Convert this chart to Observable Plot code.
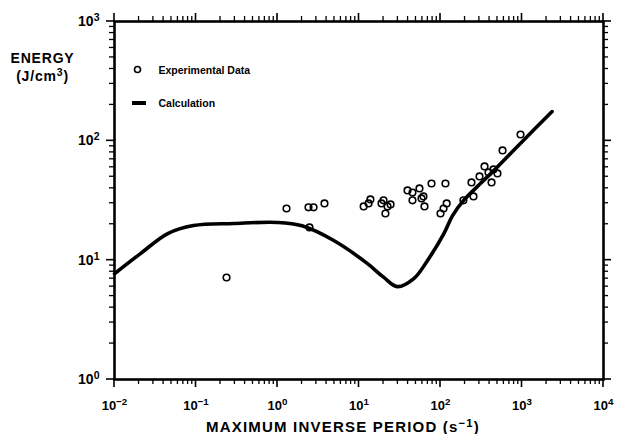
<!DOCTYPE html>
<html><head><meta charset="utf-8">
<script src="https://cdn.jsdelivr.net/npm/d3@7"></script>
<script src="https://cdn.jsdelivr.net/npm/@observablehq/plot@0.6"></script>
<style>body{margin:0;background:#fff} #chart{position:relative;width:624px;height:434px} #chart svg{display:block}</style>
</head><body><div id="chart"></div>
<script>
// Experimental data (maximum inverse period s^-1, energy J/cm^3)
const expPeriod = [0.237, 1.29, 2.40, 2.77, 2.47, 3.77, 11.4, 13.1, 13.8, 18.9, 20.0, 21.1, 22.4, 24.4,
  39.4, 45.3, 45.3, 55.2, 58.5, 61.8, 63.6, 77.6, 115, 119, 109, 100, 191, 240, 254, 301, 347, 388, 423, 447, 500, 577, 959];
const expEnergy = [7.16, 27.1, 27.7, 27.7, 18.8, 29.9, 28.2, 29.9, 32.3, 29.9, 31.7, 24.6, 28.2, 29.3,
  38.4, 36.9, 31.7, 39.9, 32.9, 34.2, 28.2, 43.9, 43.9, 29.9, 27.1, 24.6, 31.7, 44.8, 34.2, 50.3, 61.0, 54.4, 44.8, 57.6, 53.3, 83.1, 113];
// Calculation curve
const calcPeriod = [0.01, 0.021, 0.045, 0.093, 0.29, 1.0, 2.0, 4.9, 12.6, 20, 29.5, 47, 69, 110, 140, 192, 300, 447, 955, 2340];
const calcEnergy = [7.7, 11.4, 16.7, 19.5, 20.3, 20.7, 19.4, 14.6, 9.4, 7.2, 6.0, 7.0, 9.9, 16.7, 23.5, 31.7, 43.0, 56, 95, 176];

const xTicks = [1e-2, 1e-1, 1e0, 1e1, 1e2, 1e3, 1e4];
const xTickLabels = ["10⁻²", "10⁻¹", "10⁰", "10¹", "10²", "10³", "10⁴"];
const yTicks = [1, 10, 100, 1000];
const yTickLabels = ["10⁰", "10¹", "10²", "10³"];
const minorMult = [2, 3, 4, 5, 6, 7, 8, 9];
const xMinor = xTicks.slice(0, -1).flatMap(d => minorMult.map(m => d * m));
const yMinor = yTicks.slice(0, -1).flatMap(d => minorMult.map(m => d * m));

const expData = expPeriod.map((x, i) => ({x, y: expEnergy[i]}));
const calcData = calcPeriod.map((x, i) => ({x, y: calcEnergy[i]}));

const W = 624, H = 434, mT = 21, mR = 21, mB = 55, mL = 114;
const MAJ = 8, MIN = 5;

const fmtX = d => xTickLabels[xTicks.indexOf(d)];
const fmtY = d => yTickLabels[yTicks.indexOf(d)];

const plot = Plot.plot({
  width: W, height: H,
  marginTop: mT, marginRight: mR, marginBottom: mB, marginLeft: mL,
  x: {type: "log", domain: [1e-2, 1e4]},
  y: {type: "log", domain: [1, 1e3]},
  style: {fontFamily: "'Liberation Sans', Arial, sans-serif", fontWeight: "bold", color: "black", background: "white"},
  marks: [
    Plot.axisX({anchor: "bottom", ticks: xTicks, tickFormat: fmtX, tickSize: 0, tickPadding: 21, fontSize: 13, label: null}),
    Plot.axisY({anchor: "left", ticks: yTicks, tickFormat: fmtY, tickSize: 0, tickPadding: 15, fontSize: 14, label: null}),
    Plot.frame({strokeWidth: 2.6, stroke: "black"}),
    Plot.line(calcData, {x: "x", y: "y", curve: "catmull-rom", stroke: "black", strokeWidth: 3.6}),
    Plot.dot(expData, {x: "x", y: "y", r: 3.3, stroke: "black", strokeWidth: 1.6, fill: "none"}),
    Plot.text(["ENERGY\n(J/cm³)"], {frameAnchor: "top-left", dx: -72, dy: 45, fontSize: 14, lineHeight: 1.3, textAnchor: "middle", lineAnchor: "middle"}),
    Plot.text(["MAXIMUM INVERSE PERIOD (s⁻¹)"], {frameAnchor: "bottom", dx: -16, dy: 48, fontSize: 15, textAnchor: "middle", lineAnchor: "middle"}),
    Plot.dot([0], {frameAnchor: "top-left", dx: 23, dy: 48, r: 3, stroke: "black", strokeWidth: 1.6, fill: "white"}),
    Plot.text(["Experimental Data"], {frameAnchor: "top-left", dx: 44, dy: 49, fontSize: 10.5, textAnchor: "start", lineAnchor: "middle"}),
    Plot.text(["Calculation"], {frameAnchor: "top-left", dx: 44, dy: 82, fontSize: 10.5, textAnchor: "start", lineAnchor: "middle"})
  ]
});

const svg = d3.select(plot);
// legend line sample
svg.append("line")
  .attr("x1", mL + 18).attr("x2", mL + 32)
  .attr("y1", mT + 82).attr("y2", mT + 82)
  .attr("stroke", "black").attr("stroke-width", 4);

// letter spacing for the axis titles
svg.selectAll("text").each(function() {
  const t = this.textContent;
  if (t.startsWith("MAXIMUM")) this.setAttribute("letter-spacing", "1.2");
  if (t.startsWith("ENERGY")) this.setAttribute("letter-spacing", "0.8");
});

// superscripts
const supMap = {"⁻": "−", "⁰": "0", "¹": "1", "²": "2", "³": "3", "⁴": "4"};
const supRe = /[⁻⁰¹²³⁴]/;
const leaves = [];
plot.querySelectorAll("text, tspan").forEach(el => {
  if (el.children.length === 0 && supRe.test(el.textContent)) leaves.push(el);
});
const ns = "http://www.w3.org/2000/svg";
for (const el of leaves) {
  const runs = el.textContent.match(/[⁻⁰¹²³⁴]+|[^⁻⁰¹²³⁴]+/g);
  el.textContent = "";
  for (const r of runs) {
    const t = document.createElementNS(ns, "tspan");
    if (supRe.test(r)) {
      t.textContent = [...r].map(c => supMap[c]).join("");
      t.setAttribute("font-size", "75%");
      t.setAttribute("baseline-shift", "50%");
    } else t.textContent = r;
    el.appendChild(t);
  }
}

const chart = document.getElementById("chart");
chart.appendChild(plot);

// outward tick marks on all four sides, in an overlay layer, positioned with Plot's own scales
const sx = plot.scale("x"), sy = plot.scale("y");
const x0 = mL, x1 = W - mR, y0 = mT, y1 = H - mB;
const overlay = d3.select(chart).append("svg")
  .attr("width", W).attr("height", H)
  .style("position", "absolute").style("left", "0px").style("top", "0px")
  .style("pointer-events", "none").style("overflow", "visible");
function xTickRects(vals, len, w) {
  for (const v of vals) {
    const px = sx.apply(v);
    overlay.append("rect").attr("x", px - w / 2).attr("y", y1).attr("width", w).attr("height", len).attr("fill", "black");
    overlay.append("rect").attr("x", px - w / 2).attr("y", y0 - len).attr("width", w).attr("height", len).attr("fill", "black");
  }
}
function yTickRects(vals, len, w) {
  for (const v of vals) {
    const py = sy.apply(v);
    overlay.append("rect").attr("x", x0 - len).attr("y", py - w / 2).attr("width", len).attr("height", w).attr("fill", "black");
    overlay.append("rect").attr("x", x1).attr("y", py - w / 2).attr("width", len).attr("height", w).attr("fill", "black");
  }
}
xTickRects(xTicks, MAJ, 1.6);
xTickRects(xMinor, MIN, 1.3);
yTickRects(yTicks, MAJ, 1.6);
yTickRects(yMinor, MIN, 1.3);
</script>
</body></html>
